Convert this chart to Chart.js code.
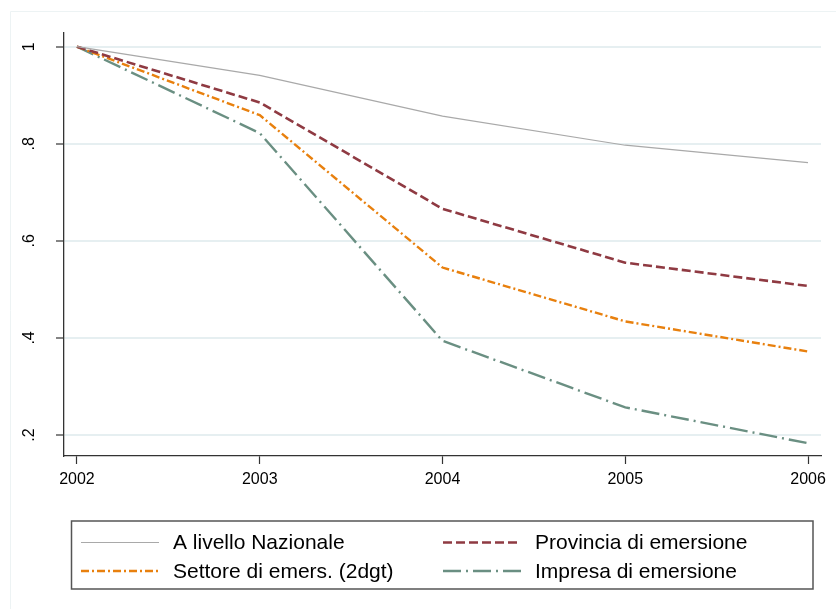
<!DOCTYPE html>
<html>
<head>
<meta charset="utf-8">
<script src="https://cdn.jsdelivr.net/npm/chart.js@4.4.1/dist/chart.umd.min.js"></script>
<style>
  body { margin: 0; background: #fff; }
  #contenedor { width: 836px; height: 609px; }
</style>
</head>
<body>
<div id="contenedor"><canvas id="grafica" width="836" height="609"></canvas></div>
<script>
const anni = [2002, 2003, 2004, 2005, 2006];
const nazionale = [1, 0.941, 0.857, 0.797, 0.761];
const provincia = [1, 0.885, 0.666, 0.555, 0.507];
const settore = [1, 0.859, 0.545, 0.434, 0.372];
const impresa = [1, 0.822, 0.394, 0.257, 0.183];
const tickY = [0.2, 0.4, 0.6, 0.8, 1];

function puntos(valores) {
  return valores.map((v, i) => ({ x: anni[i], y: v }));
}

// Marco muy claro del area del grafico (arriba e izquierda)
const marco = {
  id: 'marco',
  beforeDraw(chart) {
    const ctx = chart.ctx;
    ctx.save();
    ctx.strokeStyle = '#edf3f4';
    ctx.lineWidth = 1;
    ctx.beginPath();
    ctx.moveTo(10.5, chart.height);
    ctx.lineTo(10.5, 11.5);
    ctx.lineTo(chart.width, 11.5);
    ctx.stroke();
    ctx.restore();
  }
};

// Leyenda en caja con dos columnas
const leyenda = {
  id: 'leyenda',
  afterDraw(chart) {
    const ctx = chart.ctx;
    const sets = chart.data.datasets;
    ctx.save();
    ctx.strokeStyle = '#555';
    ctx.lineWidth = 1.5;
    ctx.strokeRect(71.5, 521, 741.5, 68);
    const columnas = [81, 443];
    const filas = [542.5, 571];
    ctx.font = '21px "Liberation Sans", Arial, sans-serif';
    ctx.textBaseline = 'middle';
    sets.forEach((ds, i) => {
      const x = columnas[i % 2];
      const y = filas[Math.floor(i / 2)];
      ctx.strokeStyle = ds.borderColor;
      ctx.lineWidth = ds.borderWidth;
      ctx.setLineDash(ds.borderDash || []);
      ctx.beginPath();
      ctx.moveTo(x, y);
      ctx.lineTo(x + 78, y);
      ctx.stroke();
      ctx.setLineDash([]);
      ctx.fillStyle = '#000';
      ctx.fillText(ds.label, x + 92, y + 1);
    });
    ctx.restore();
  }
};

const ctx = document.getElementById('grafica').getContext('2d');
new Chart(ctx, {
  type: 'line',
  data: {
    datasets: [
      { label: 'A livello Nazionale', data: puntos(nazionale), borderColor: '#a9a9a9', borderWidth: 1.2 },
      { label: 'Provincia di emersione', data: puntos(provincia), borderColor: '#8f3a42', borderWidth: 2.6, borderDash: [9, 4] },
      { label: 'Settore di emers. (2dgt)', data: puntos(settore), borderColor: '#e8800e', borderWidth: 2.4, borderDash: [8, 3, 2, 3] },
      { label: 'Impresa di emersione', data: puntos(impresa), borderColor: '#6a8f82', borderWidth: 2.4, borderDash: [18, 5, 2, 5] }
    ]
  },
  options: {
    responsive: false,
    animation: false,
    layout: { padding: { top: 33, right: 15, left: 0, bottom: 113 } },
    elements: { point: { radius: 0 }, line: { tension: 0, fill: false } },
    plugins: { legend: { display: false }, tooltip: { enabled: false } },
    scales: {
      x: {
        type: 'linear',
        min: 2001.929,
        max: 2006.071,
        afterBuildTicks: s => { s.ticks = anni.map(v => ({ value: v })); },
        afterFit: s => { s.height = 40; },
        grid: { drawOnChartArea: false, tickColor: '#333', tickWidth: 1.2, tickLength: 8 },
        border: { color: '#333', width: 1.3 },
        ticks: {
          callback: v => String(v),
          color: '#000',
          padding: 6,
          maxRotation: 0,
          font: { family: '"Liberation Sans", Arial, sans-serif', size: 16 }
        }
      },
      y: {
        min: 0.1567,
        max: 1.0282,
        afterBuildTicks: s => { s.ticks = tickY.map(v => ({ value: v })); },
        afterFit: s => { s.width = 64; },
        grid: { color: '#e6eff1', lineWidth: 2, tickColor: '#333', tickWidth: 1.2, tickLength: 8 },
        border: { color: '#333', width: 1.3 },
        ticks: {
          callback: v => (v === 1 ? '1' : String(v).replace(/^0/, '')),
          color: '#000',
          padding: 20,
          minRotation: 90,
          maxRotation: 90,
          crossAlign: 'center',
          font: { family: '"Liberation Sans", Arial, sans-serif', size: 16 }
        }
      }
    }
  },
  plugins: [marco, leyenda]
});
</script>
</body>
</html>
